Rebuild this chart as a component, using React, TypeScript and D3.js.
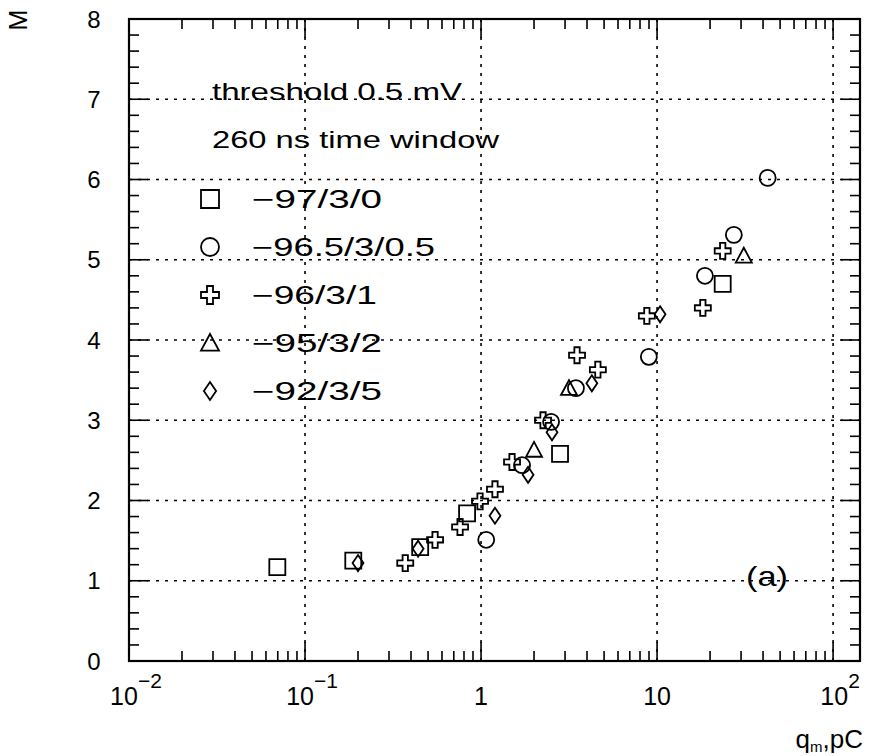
import React from "react";
import * as d3 from "d3";

// Multiplicity M versus mean charge q_m for five gas mixtures
const squareX = [0.0696, 0.188, 0.451, 0.833, 2.81, 23.6];
const squareY = [1.17, 1.25, 1.42, 1.84, 2.58, 4.7];

const circleX = [1.07, 1.71, 2.5, 3.46, 8.98, 18.7, 27.3, 42.5];
const circleY = [1.51, 2.44, 2.98, 3.4, 3.79, 4.8, 5.31, 6.02];

const crossX = [0.371, 0.548, 0.76, 0.987, 1.2, 1.5, 2.25, 3.51, 4.61, 8.75, 18.2, 23.6];
const crossY = [1.22, 1.51, 1.67, 1.99, 2.14, 2.48, 3.0, 3.81, 3.63, 4.3, 4.4, 5.11];

const triangleX = [2.0, 3.16, 31.1];
const triangleY = [2.63, 3.4, 5.05];

const diamondX = [0.2, 0.439, 1.2, 1.85, 2.53, 4.26, 10.4];
const diamondY = [1.22, 1.4, 1.81, 2.32, 2.85, 3.46, 4.32];

const seriesShapes = ["square", "circle", "cross", "triangle", "diamond"];
const seriesLabels = ["−97/3/0", "−96.5/3/0.5", "−96/3/1", "−95/3/2", "−92/3/5"];
const seriesX = [squareX, circleX, crossX, triangleX, diamondX];
const seriesY = [squareY, circleY, crossY, triangleY, diamondY];

const xDecades = [0.01, 0.1, 1, 10, 100];
const xTickBase = ["10", "10", "1", "10", "10"];
const xTickExp = ["−2", "−1", "", "", "2"];
const yTicks = [0, 1, 2, 3, 4, 5, 6, 7, 8];

const infoLines = ["threshold 0.5 mV", "260 ns time window"];
const infoWidths = [250, 287];
const legendWidths = [130, 183, 125, 130, 130];

const W = 869;
const H = 756;
const FONT = "'Liberation Sans', Arial, Helvetica, sans-serif";

function markerPath(shape: string, s: number): string {
  const h = s / 2;
  switch (shape) {
    case "square":
      return `M${-h},${-h}H${h}V${h}H${-h}Z`;
    case "circle":
      return `M${h},0A${h},${h} 0 1,1 ${-h},0A${h},${h} 0 1,1 ${h},0Z`;
    case "cross": {
      const a = s / 6;
      return `M${-a},${-h}H${a}V${-a}H${h}V${a}H${a}V${h}H${-a}V${a}H${-h}V${-a}H${-a}Z`;
    }
    case "triangle":
      return `M0,${-h}L${h},${h * 0.85}H${-h}Z`;
    case "diamond":
      return `M0,${-h}L${h * 0.68},0L0,${h}L${-h * 0.68},0Z`;
    default:
      return "";
  }
}

export default function App() {
  const x = d3.scaleLog().domain([0.01, 142.2]).range([129, 860]);
  const y = d3.scaleLinear().domain([0, 8]).range([661, 19]);
  const [x0, x1] = x.range();
  const [yb, yt] = y.range();

  const xMinor: number[] = [];
  xDecades.forEach((d) => {
    for (let k = 2; k <= 9; k++) {
      const v = k * d;
      if (v < x.domain()[1]) xMinor.push(v);
    }
  });
  const yMinor: number[] = [];
  for (let i = 0; i < 8; i++) for (let k = 1; k <= 4; k++) yMinor.push(i + k * 0.2);

  const majorLen = 19;
  const minorLen = 10;
  const legendX = 210;
  const legendTextX = 252;
  const legendY0 = 199;
  const legendStep = 48;

  return (
    <svg
      width={W}
      height={H}
      style={{ position: "absolute", left: 0, top: 0, background: "#fff" }}
      fontFamily={FONT}
    >
      <rect x={0} y={0} width={W} height={H} fill="#fff" />

      {/* grid */}
      <g stroke="#000" strokeWidth={1.6} strokeDasharray="3 6" fill="none">
        {xDecades.slice(1).map((d) => (
          <line key={`gx${d}`} x1={x(d)} x2={x(d)} y1={yb} y2={yt} />
        ))}
        {yTicks.slice(1, -1).map((v) => (
          <line key={`gy${v}`} x1={x0} x2={x1} y1={y(v)} y2={y(v)} />
        ))}
      </g>

      {/* ticks on all four sides */}
      <g stroke="#000" strokeWidth={1.6}>
        {xDecades.map((d) => (
          <g key={`tx${d}`}>
            <line x1={x(d)} x2={x(d)} y1={yb} y2={yb - majorLen} />
            <line x1={x(d)} x2={x(d)} y1={yt} y2={yt + majorLen} />
          </g>
        ))}
        {xMinor.map((v) => (
          <g key={`mx${v}`}>
            <line x1={x(v)} x2={x(v)} y1={yb} y2={yb - minorLen} />
            <line x1={x(v)} x2={x(v)} y1={yt} y2={yt + minorLen} />
          </g>
        ))}
        {yTicks.map((v) => (
          <g key={`ty${v}`}>
            <line x1={x0} x2={x0 + majorLen} y1={y(v)} y2={y(v)} />
            <line x1={x1} x2={x1 - majorLen} y1={y(v)} y2={y(v)} />
          </g>
        ))}
        {yMinor.map((v) => (
          <g key={`my${v}`}>
            <line x1={x0} x2={x0 + minorLen} y1={y(v)} y2={y(v)} />
            <line x1={x1} x2={x1 - minorLen} y1={y(v)} y2={y(v)} />
          </g>
        ))}
      </g>

      {/* frame */}
      <rect x={x0} y={yt} width={x1 - x0} height={yb - yt} fill="none" stroke="#000" strokeWidth={2.2} />

      {/* y tick labels */}
      <g fontSize={24} textAnchor="middle" fill="#000">
        {yTicks.map((v) => (
          <text key={`ly${v}`} x={94} y={y(v)} dy="0.36em">
            {v}
          </text>
        ))}
      </g>

      {/* x tick labels */}
      <g fill="#000" textAnchor="middle">
        {xDecades.map((d, i) => (
          <text key={`lx${d}`} x={x(d) + (xTickExp[i] ? 7 : 0)} y={705} fontSize={25}>
            {xTickBase[i]}
            {xTickExp[i] ? (
              <tspan dy={-17} fontSize={21}>
                {xTickExp[i]}
              </tspan>
            ) : null}
          </text>
        ))}
      </g>

      {/* axis titles */}
      <text x={18} y={20} fontSize={25} textAnchor="middle" dy="0.36em" transform="rotate(-90 18 20)">
        M
      </text>
      <text x={863} y={748} fontSize={26} textAnchor="end">
        q
        <tspan fontSize={15} dy={4}>m</tspan>
        <tspan dy={-4}>,pC</tspan>
      </text>

      {/* info text */}
      {infoLines.map((t, i) => (
        <text
          key={t}
          x={212}
          y={100 + i * 48}
          fontSize={24}
          textLength={infoWidths[i]}
          lengthAdjust="spacingAndGlyphs"
        >
          {t}
        </text>
      ))}

      {/* legend */}
      {seriesLabels.map((lab, i) => (
        <g key={lab}>
          <path
            d={markerPath(seriesShapes[i], 18)}
            transform={`translate(${legendX},${legendY0 + i * legendStep})`}
            fill="none"
            stroke="#000"
            strokeWidth={1.8}
          />
          <text
            x={legendTextX}
            y={legendY0 + i * legendStep + 9}
            fontSize={25}
            textLength={legendWidths[i]}
            lengthAdjust="spacingAndGlyphs"
          >
            {lab}
          </text>
        </g>
      ))}

      {/* panel tag */}
      <text x={746} y={586} fontSize={28} textLength={42} lengthAdjust="spacingAndGlyphs">
        (a)
      </text>

      {/* data points */}
      {seriesX.map((xs, si) =>
        xs.map((xv, j) => (
          <path
            key={`p${si}-${j}`}
            d={markerPath(seriesShapes[si], 16)}
            transform={`translate(${x(xv)},${y(seriesY[si][j])})`}
            fill="none"
            stroke="#000"
            strokeWidth={1.8}
          />
        ))
      )}
    </svg>
  );
}
